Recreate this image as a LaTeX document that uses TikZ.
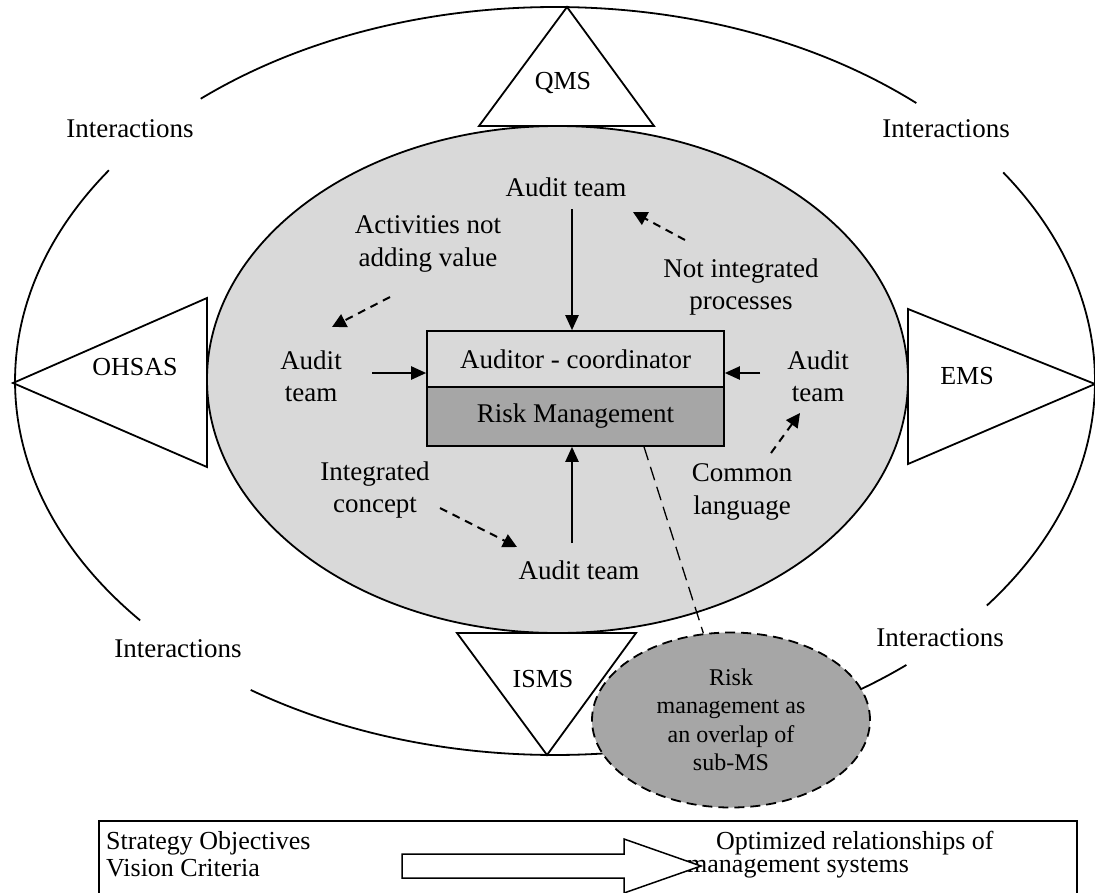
\documentclass[tikz,border=0pt]{standalone}
\usepackage{fontspec}
\setmainfont{Liberation Serif}
\usetikzlibrary{calc,shapes.geometric,arrows.meta}

\definecolor{coregray}{HTML}{D9D9D9}
\definecolor{riskgray}{HTML}{A6A6A6}

\begin{document}
\begin{tikzpicture}[x=1pt,y=-1pt,
  lbl/.style={font=\fontsize{27}{32.4}\selectfont, align=center, inner sep=2pt},
  trilbl/.style={font=\fontsize{26}{30}\selectfont, inner sep=0pt},
  foot/.style={font=\fontsize{26}{30}\selectfont, anchor=west, inner sep=0pt},
  ring/.style={line width=1.8pt},
  tri/.style={draw, line width=1.8pt, fill=white, line join=miter},
  arr/.style={line width=2.2pt, -{Triangle[length=15pt,width=13pt]}},
  dasharr/.style={line width=2pt, dash pattern=on 8pt off 6pt, -{Triangle[length=14pt,width=14pt]}},
  thindash/.style={line width=1.3pt, dash pattern=on 14pt off 7pt},
  cell/.style={draw, line width=1.6pt, minimum width=297pt, inner sep=0pt,
    font=\fontsize{27}{32.4}\selectfont},
]
\useasboundingbox (0,0) rectangle (1095,892);

% outer ring, broken where the "Interactions" labels sit
\coordinate (oc) at (555,381);
\foreach \a/\b in {48/131, 145.7/219.8, 235.7/310.6, -36.9/33.9}
  \draw[ring] ($(oc)+({540*cos(\a)},{-374*sin(\a)})$)
    arc[start angle=\a, end angle=\b, x radius=540pt, y radius=374pt];

% inner grey ellipse
\node[draw, ellipse, line width=1.8pt, fill=coregray, inner sep=0pt,
  minimum width=701pt, minimum height=507pt] (core) at (557.5,379.5) {};

% the four management systems
\draw[tri] (567,7) -- (654,126) -- (479,126) -- cycle;
\node[trilbl] (qms) at (563,83) {QMS};
\draw[tri] (13,383) -- (207,298) -- (207,467) -- cycle;
\node[trilbl] (ohsas) at (135,367) {OHSAS};
\draw[tri] (1095,384) -- (908,309) -- (908,464) -- cycle;
\node[trilbl] (ems) at (967,376) {EMS};
\draw[tri] (457,633) -- (636,633) -- (547,755) -- cycle;
\node[trilbl] (isms) at (543,679) {ISMS};

% interaction labels
\node[lbl] (intTL) at (130,129) {Interactions};
\node[lbl] (intTR) at (946,129) {Interactions};
\node[lbl] (intBL) at (178,649) {Interactions};
\node[lbl] (intBR) at (940,638) {Interactions};

% central box
\node[cell, fill=coregray, minimum height=56pt] (coord) at (575.5,359) {Auditor - coordinator};
\node[cell, fill=riskgray, minimum height=59pt] (riskm) at (575.5,416.5) {Risk Management};

% audit teams and influences
\node[lbl] (atTop) at (566,187) {Audit team};
\node[lbl] (atL) at (311,376) {Audit\\team};
\node[lbl] (atR) at (818,376) {Audit\\team};
\node[lbl] (atB) at (579,570) {Audit team};
\node[lbl] (act) at (428,244) {Activities not\\adding value};
\node[lbl] (notint) at (741,287) {Not integrated\\processes};
\node[lbl] (integ) at (375,490) {Integrated\\concept};
\node[lbl] (common) at (742,492) {Common\\language};

\draw[arr] ($(atTop.center)+(6,22)$) -- ($(coord.north)+(-3.5,0)$);
\draw[arr] ($(atL.center)+(61,-3)$) -- ($(coord.west)+(0,14)$);
\draw[arr] ($(atR.center)+(-58,-3)$) -- ($(coord.east)+(0,14)$);
\draw[arr] ($(atB.center)+(-7,-27)$) -- ($(riskm.south)+(-3.5,0)$);

\draw[dasharr] ($(act.center)+(-38,53)$) -- ($(atL.center)+(21,-49)$);
\draw[dasharr] ($(notint.center)+(-56,-47)$) -- ($(atTop.center)+(67,25)$);
\draw[dasharr] ($(common.center)+(29,-39)$) -- ($(atR.center)+(-18,37)$);
\draw[dasharr] ($(integ.center)+(65,18)$) -- ($(atB.center)+(-62,-23)$);

% risk management overlap
\node[draw, ellipse, line width=1.8pt, dash pattern=on 10pt off 6pt, fill=riskgray,
  inner sep=0pt, minimum width=278pt, minimum height=175pt, align=center,
  font=\fontsize{24}{28.5}\selectfont] (riskE) at (731,720)
  {Risk\\management as\\an overlap of\\sub-MS};
\draw[thindash] ($(riskm.south)+(68.5,0)$) -- (riskE);

% strategy strip
\draw[line width=1.5pt] (99,821) rectangle (1077,912);
\node[foot] (strat) at (106,843) {Strategy Objectives};
\node[foot] (vision) at (106,868) {Vision Criteria};
\node[foot] (optim) at (716,843) {Optimized relationships of};
\node[foot] (mgmt) at (687,868) {management systems};
\draw[line width=1.5pt, fill=white, line join=miter]
  (402,854) -- (624,854) -- (624,839) -- (701,866) -- (624,893)
  -- (624,878) -- (402,878) -- cycle;
\end{tikzpicture}
\end{document}
